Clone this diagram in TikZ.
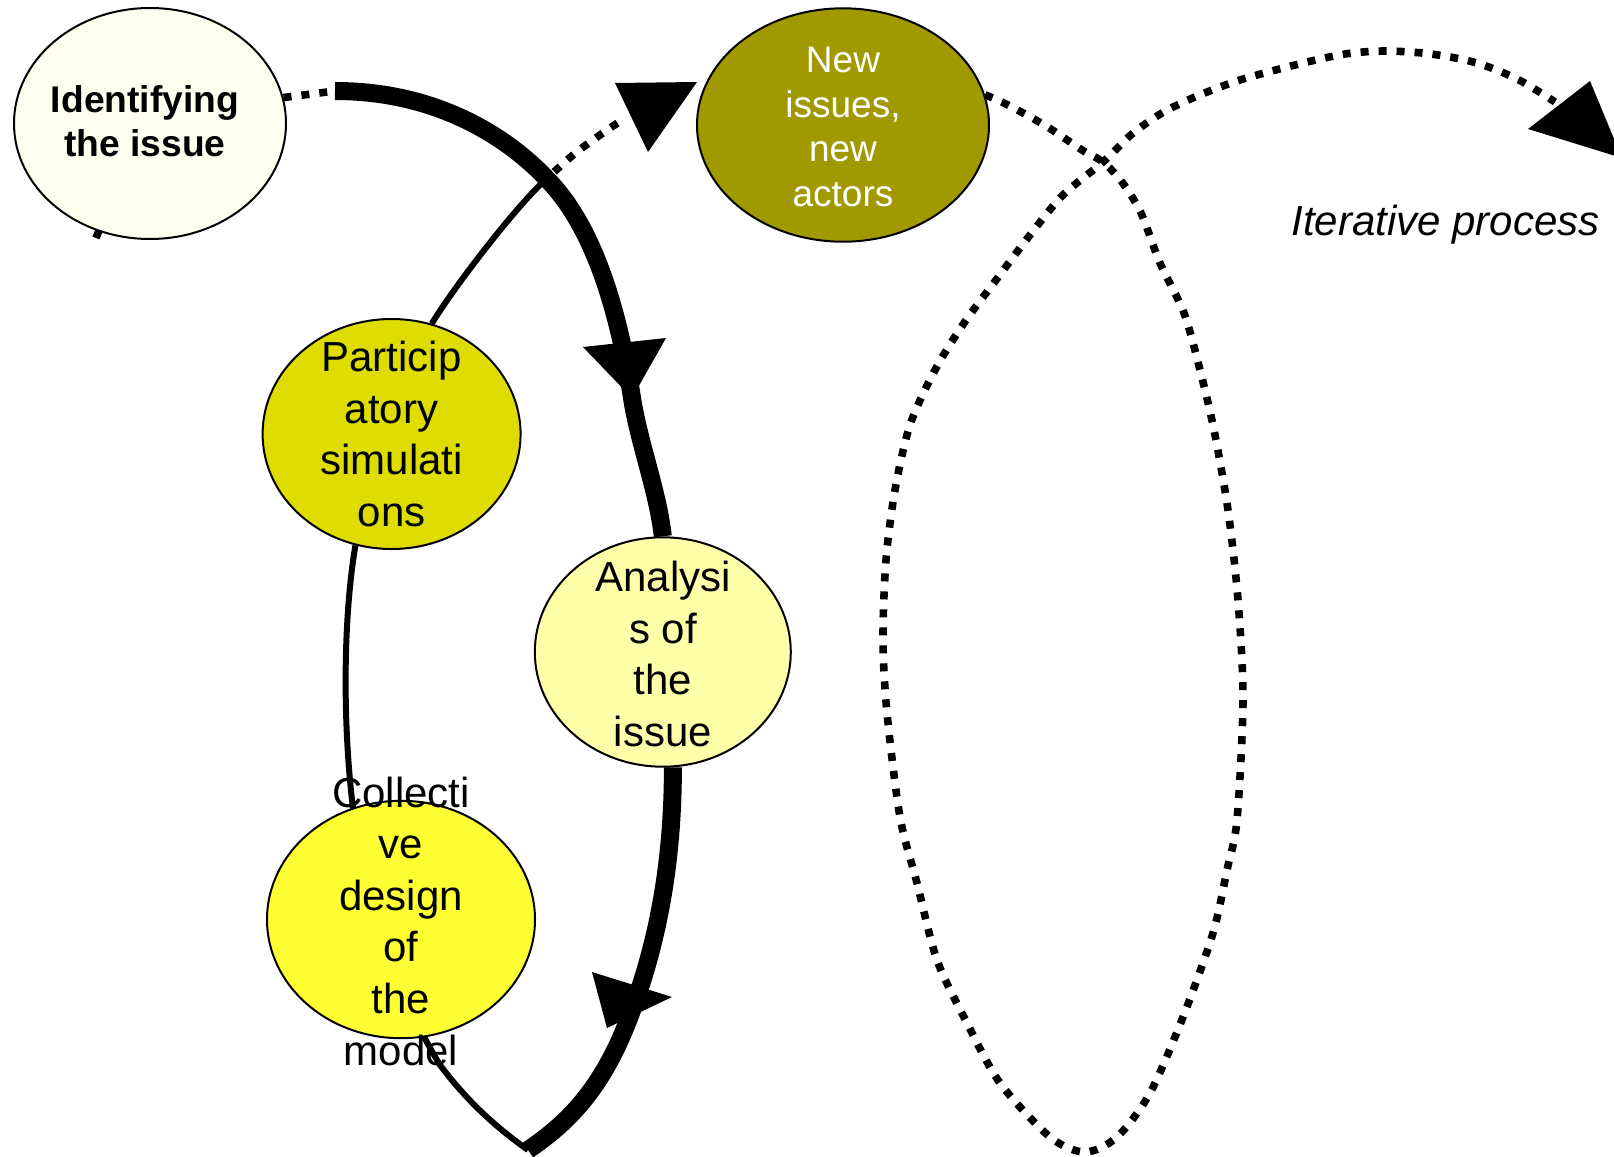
\documentclass[tikz,border=0pt]{standalone}
\usepackage{fontspec}
\setmainfont{Liberation Sans}
\usetikzlibrary{shapes.geometric}
\pgfdeclarelayer{bg}
\pgfsetlayers{bg,main}
\definecolor{idfill}{HTML}{FFFFF0}
\definecolor{nifill}{HTML}{A09A00}
\definecolor{pafill}{HTML}{DEDC00}
\definecolor{anfill}{HTML}{FFFFAA}
\definecolor{cdfill}{HTML}{FFFF33}
\tikzset{
  bub/.style={ellipse, draw=black, line width=1pt, inner sep=0pt},
  thickln/.style={line width=9pt, line cap=butt, line join=round},
  thinln/.style={line width=3pt},
  dotln/.style={line width=3.8pt, dash pattern=on 4pt off 5pt},
  tipfill/.style={fill=black},
  lbl/.style={align=center, inner sep=0pt, font=\fontsize{21}{25.8}\selectfont},
}
\begin{document}
\begin{tikzpicture}[x=0.5pt,y=-0.5pt]
\useasboundingbox (0,0) rectangle (1614,1157);
% ellipses
\node[bub, fill=idfill, minimum width=136pt, minimum height=115.5pt] (id) at (150,123.5) {};
\node[bub, fill=nifill, minimum width=146pt, minimum height=116.7pt] (ni) at (843,125) {};
\node[bub, fill=pafill, minimum width=129pt, minimum height=115pt] (pa) at (391.6,434) {};
\node[bub, fill=anfill, minimum width=128pt, minimum height=114.7pt] (an) at (662.8,652) {};
\node[bub, fill=cdfill, minimum width=134pt, minimum height=118.7pt] (cd) at (401,919.5) {};
% texts
\node[lbl, font=\bfseries\fontsize{18.6}{22.1}\selectfont] (idt) at (145,121) {Identifying\\the issue};
\node[lbl, text=white, font=\fontsize{18.5}{22.3}\selectfont] (nit) at (843,127) {New\\issues,\\new\\actors};
\node[lbl] (pat) at (391.6,434) {Particip\\atory\\simulati\\ons};
\node[lbl] (ant) at (663,654) {Analysi\\s of\\the\\issue};
\node[lbl] (cdt) at (401,921) {Collecti\\ve\\design\\of\\the\\model};
\node[font=\itshape\fontsize{21}{25}\selectfont, anchor=base, inner sep=0pt] (itp) at (1445.5,235) {Iterative process};
\begin{pgfonlayer}{bg}
\fill[white] (0,0) rectangle (1614,1157);
\coordinate (s1) at (335,91);
\coordinate (bt) at (528,1150);
\coordinate (x1) at (541,184);
\coordinate (m0) at (100,228);
\coordinate (m1) at (96,238);
% small mark under Identifying
\draw[line width=3.8pt] (m0) -- (m1);
% dotted stub from Identifying
\draw[dotln] (id.11) -- (s1);
% thick main arc
\draw[thickln] (s1) .. controls (440,91) and (510,140) .. (546,178)
  .. controls (590,222) and (617,300) .. (632,398)
  .. controls (639,443) and (658,492) .. (an.north);
\draw[thickln] (an.-85) .. controls (673,870) and (655,960) .. (620,1040)
  .. controls (595,1095) and (565,1125) .. (bt);
% thin return line
\draw[thinln] (pa.-108) .. controls (343,620) and (343,720) .. (352,800)
  .. controls (365,900) and (400,1000) .. (440,1065)
  .. controls (470,1105) and (500,1130) .. (bt);
\draw[thinln] (pa.70) .. controls (452,290) and (510,214) .. (x1);
\draw[dotln] plot[smooth] coordinates {(x1) (573,155) (600,135) (625,118)};
% iterative loop
\draw[dotln] plot[smooth] coordinates {(ni.12) (1008,105) (1046,126) (1082,150) (1103,162) (1122,182) (1141,213) (1160,263) (1184,313) (1200,370) (1214,430) (1228,510) (1238,600) (1243,700) (1237,820) (1227,870) (1213,933) (1183,1017) (1150,1093) (1117,1137) (1085,1152) (1050,1137) (1000,1083) (967,1023) (937,960) (917,883) (900,817) (887,713) (883,640) (886,560) (895,490) (910,425) (935,370) (964,323) (996,280) (1030,235) (1063,195) (1103,162) (1132,134) (1162,113) (1195,97) (1240,80) (1299,64) (1345,54) (1385,51) (1431,54) (1477,63) (1519,80) (1555,102)};
% arrowheads
\fill[tipfill] (615,83) -- (697,82) -- (648,152) -- cycle;
\fill[tipfill] (583,347) -- (666,338) -- (632,398) -- cycle;
\fill[tipfill] (592,972) -- (672,997) -- (607,1028) -- cycle;
\fill[tipfill] (1590,81) -- (1528,129) -- (1622,158) -- cycle;
\end{pgfonlayer}
\end{tikzpicture}
\end{document}
